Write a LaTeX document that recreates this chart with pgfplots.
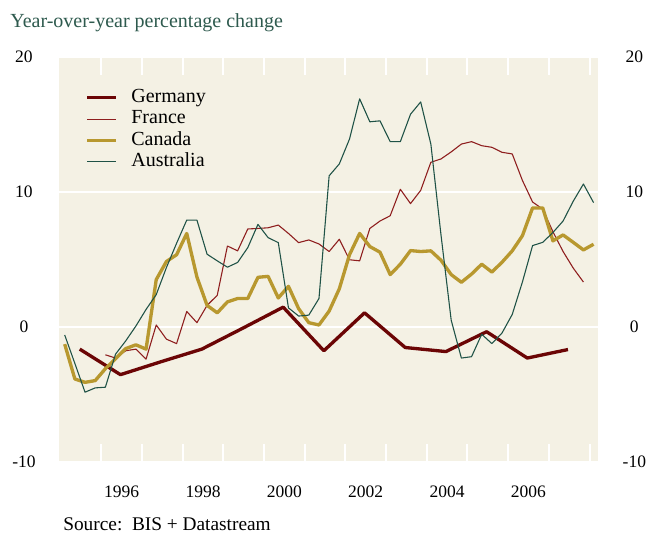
\documentclass[border=0pt]{standalone}
\usepackage{fontspec}
\setmainfont{Liberation Serif}
\usepackage{pgfplots}
\usepackage{pgfplotstable}
\pgfplotsset{compat=1.18}

\definecolor{bgpanel}{HTML}{F4F1E4}
\definecolor{germany}{HTML}{6B0505}
\definecolor{france}{HTML}{8E1E1E}
\definecolor{canada}{HTML}{B8982F}
\definecolor{australia}{HTML}{1F5246}
\definecolor{titlegreen}{HTML}{2E5A4E}
\definecolor{zeroline}{HTML}{707070}

% quarterly series, year-over-year % change
\pgfplotstableread{
x       canada australia france
1995.10 -1.27  -0.59  nan
1995.35 -3.85  -2.70  nan
1995.60 -4.10  -4.83  nan
1995.85 -3.97  -4.51  nan
1996.10 -3.09  -4.46  -2.06
1996.35 -2.35  -2.01  -2.30
1996.60 -1.60  -1.03  -1.76
1996.85 -1.32   0.07  -1.64
1997.10 -1.64   1.30  -2.38
1997.35  3.51   2.40   0.15
1997.60  4.85   4.40  -0.90
1997.85  5.35   6.20  -1.23
1998.10  6.93   7.92   1.15
1998.35  3.70   7.92   0.32
1998.60  1.60   5.39   1.60
1998.85  1.05   4.90   2.35
1999.10  1.86   4.43   6.00
1999.35  2.11   4.78   5.64
1999.60  2.11   5.88   7.26
1999.85  3.68   7.60   7.30
2000.10  3.75   6.62   7.35
2000.35  2.15   6.25   7.55
2000.60  3.01   1.42   6.93
2000.85  1.36   0.81   6.25
2001.10  0.32   0.88   6.45
2001.35  0.15   2.11   6.15
2001.60  1.18  11.20   5.59
2001.85  2.83  12.08   6.50
2002.10  5.35  13.92   4.98
2002.35  6.93  16.90   4.90
2002.60  5.96  15.20   7.30
2002.85  5.54  15.27   7.85
2003.10  3.88  13.73   8.24
2003.35  4.65  13.73  10.20
2003.60  5.66  15.76   9.14
2003.85  5.59  16.67  10.12
2004.10  5.64  13.55  12.20
2004.35  4.94   6.80  12.45
2004.60  3.88   0.50  12.97
2004.85  3.31  -2.30  13.55
2005.10  3.92  -2.20  13.73
2005.35  4.65  -0.54  13.43
2005.60  4.07  -1.23  13.31
2005.85  4.80  -0.44  12.94
2006.10  5.64   0.93  12.82
2006.35  6.76   3.33  10.86
2006.60  8.82   6.03   9.26
2006.85  8.82   6.27   8.73
2007.10  6.38   7.00   7.06
2007.35  6.82   7.85   5.59
2007.60  6.27   9.32   4.36
2007.85  5.71  10.59   3.33
2008.10  6.13   9.21   nan
}\quarterly

% Germany, annual
\pgfplotstableread{
x       v
1995.47 -1.64
1996.47 -3.53
1997.47 -2.57
1998.47 -1.64
1999.47 -0.10
2000.47  1.47
2001.47 -1.76
2002.47  1.05
2003.47 -1.52
2004.47 -1.82
2005.47 -0.35
2006.47 -2.30
2007.47 -1.67
}\germanytab

\pgfplotsset{
  panel/.style={
    width=323.2pt, height=243pt, scale only axis,
    xmin=1994.96, xmax=2008.2, ymin=-10, ymax=20,
    at={(0,0)}, anchor=south west,
    axis line style={draw=none},
  },
  ticklbl/.style={font=\fontsize{10.5}{12}\selectfont},
}

\begin{document}
\begin{tikzpicture}
\useasboundingbox (-35.4pt,-43.8pt) rectangle (352.8pt,277.2pt);

\begin{axis}[panel,
  axis background/.style={fill=bgpanel},
  xtick={1996,...,2008},
  x tick label as interval,
  xticklabels={1996,,1998,,2000,,2002,,2004,,2006,},
  xtick style={draw=none},
  xticklabel style={ticklbl, anchor=base, yshift=-21.6pt},
  ytick={-10,0,10,20}, yticklabels={-10,0,10,20},
  ytick pos=left,
  ytick style={draw=none},
  yticklabel style={ticklbl, anchor=center, xshift=-21pt},
  ymajorgrids, y grid style={white, line width=1.2pt},
  extra y ticks={0}, extra y tick labels={},
  extra y tick style={grid=major, major grid style={zeroline, line width=0.9pt}},
  legend style={draw=none, fill=none, at={(0.039,0.931)}, anchor=north west,
    font=\fontsize{12}{14}\selectfont, row sep=1.8pt, column sep=8.2pt,
    nodes={inner sep=0pt, text height=8.4pt, text depth=2.6pt}},
  legend cell align=left,
  legend image code/.code={\draw[#1] (0pt,0pt) -- (17.4pt,0pt);},
]
\addplot[germany, line width=2pt, line join=round] table[x=x, y=v] {\germanytab};
\addplot[france, line width=0.65pt, line join=round] table[x=x, y=france] {\quarterly};
\addplot[canada, line width=2pt, line join=round] table[x=x, y=canada] {\quarterly};
\addplot[australia, line width=0.65pt, line join=round] table[x=x, y=australia] {\quarterly};
\legend{Germany, France, Canada, Australia}
\end{axis}

% short white year marks on the top and bottom edges of the panel
\foreach \yr in {1996,1997,1998,1999,2000,2001,2002,2003,2004,2005,2006,2007,2008} {
  \pgfmathsetmacro\xx{(\yr-1994.96)*323.2/13.24}
  \draw[white, line width=1.2pt] (\xx pt,0pt) -- (\xx pt,10.8pt);
  \draw[white, line width=1.2pt] (\xx pt,243pt) -- (\xx pt,232.2pt);
}

% right-hand tick labels
\begin{axis}[panel,
  hide x axis,
  ytick={-10,0,10,20}, yticklabels={-10,0,10,20},
  ytick style={draw=none},
  yticklabel pos=right,
  yticklabel style={ticklbl, anchor=center, xshift=22pt},
]
\end{axis}

\node[anchor=base west, inner sep=0pt, text=titlegreen, font=\fontsize{12}{14}\selectfont]
  at (-29.4pt,260.4pt) {Year-over-year percentage change};
\node[anchor=base west, inner sep=0pt, font=\fontsize{11.6}{14}\selectfont]
  at (2.4pt,-41.4pt) {Source:\ \ BIS + Datastream};
\end{tikzpicture}
\end{document}
